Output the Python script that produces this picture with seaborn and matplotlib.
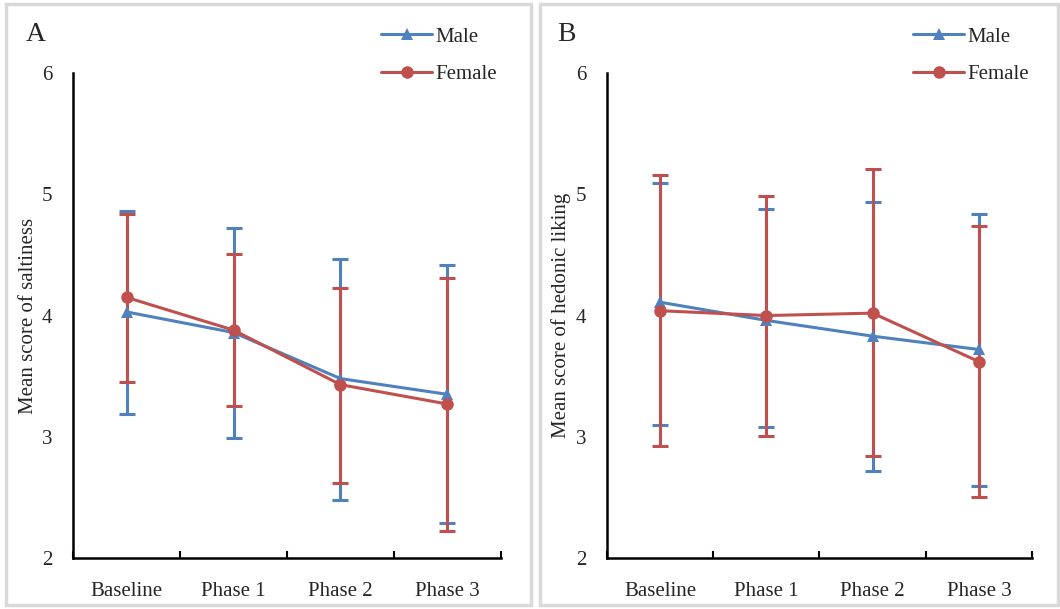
import numpy as np
import pandas as pd
import seaborn as sns
import matplotlib.pyplot as plt
from matplotlib.patches import Rectangle

phases = ["Baseline", "Phase 1", "Phase 2", "Phase 3"]

# Panel A: saltiness
salt_male = [4.03, 3.86, 3.48, 3.35]
salt_male_lo = [3.19, 2.99, 2.48, 2.29]
salt_male_hi = [4.86, 4.72, 4.47, 4.42]
salt_female = [4.15, 3.88, 3.43, 3.27]
salt_female_lo = [3.45, 3.25, 2.62, 2.22]
salt_female_hi = [4.84, 4.51, 4.23, 4.31]

# Panel B: hedonic liking
like_male = [4.11, 3.96, 3.83, 3.72]
like_male_lo = [3.10, 3.08, 2.72, 2.59]
like_male_hi = [5.09, 4.88, 4.94, 4.84]
like_female = [4.04, 4.00, 4.02, 3.62]
like_female_lo = [2.92, 3.01, 2.84, 2.50]
like_female_hi = [5.16, 4.99, 5.21, 4.74]

BLUE = "#4F81BD"
RED = "#C0504D"
FS = 15

sns.set_theme(style="white")
plt.rcParams["font.family"] = ["Liberation Serif", "DejaVu Serif"]


def long_df(male, female):
    x = np.arange(len(phases))
    return pd.DataFrame({
        "x": np.concatenate([x, x]),
        "score": list(male) + list(female),
        "sex": ["Male"] * len(male) + ["Female"] * len(female),
    })


def draw_panel(ax, male, mlo, mhi, female, flo, fhi, ylabel, letter, letter_x):
    x = np.arange(len(phases))
    for vals, lo, hi, col in [(male, mlo, mhi, BLUE), (female, flo, fhi, RED)]:
        vals = np.array(vals)
        err = [vals - np.array(lo), np.array(hi) - vals]
        ax.errorbar(x, vals, yerr=err, fmt="none", ecolor=col, elinewidth=2.2,
                    capsize=6, capthick=2.2, zorder=2)
    df = long_df(male, female)
    sns.lineplot(data=df, x="x", y="score", hue="sex", style="sex",
                 hue_order=["Male", "Female"], style_order=["Male", "Female"],
                 palette={"Male": BLUE, "Female": RED},
                 markers={"Male": "^", "Female": "o"}, dashes=False,
                 markersize=9, markeredgewidth=0, linewidth=2.2,
                 errorbar=None, ax=ax, zorder=3)
    ax.set_xlim(-0.5, 3.5)
    ax.set_ylim(2, 6)
    ax.set_yticks([2, 3, 4, 5, 6])
    ax.set_xticks(x)
    ax.set_xticklabels(phases)
    ax.set_xticks(np.arange(-0.5, 3.6, 1), minor=True)
    ax.tick_params(axis="x", which="major", length=0, pad=17, labelsize=FS)
    ax.tick_params(axis="x", which="minor", length=5, width=1.5, direction="in",
                   bottom=True, color="black")
    ax.tick_params(axis="y", length=0, pad=15, labelsize=FS)
    ax.set_xlabel("")
    ax.set_ylabel(ylabel, fontsize=FS, labelpad=3)
    for s in ["top", "right"]:
        ax.spines[s].set_visible(False)
    for s in ["left", "bottom"]:
        ax.spines[s].set_color("black")
        ax.spines[s].set_linewidth(1.8)
    ax.legend_.remove()
    handles, labels = ax.get_legend_handles_labels()
    ax.legend(handles, labels, loc="upper left", bbox_to_anchor=(0.72, 1.095),
              frameon=False, fontsize=FS, handlelength=2.45,
              handletextpad=0.15, labelspacing=0.85, borderaxespad=0,
              borderpad=0)
    ax.figure.text(letter_x, 0.943, letter, fontsize=20, ha="left", va="center")


fig = plt.figure(figsize=(10.6, 6.09), dpi=100)
for x0, w in [(0.006, 0.495), (0.509, 0.489)]:
    fig.patches.append(Rectangle((x0, 0.006), w, 0.988, transform=fig.transFigure,
                                 fill=False, edgecolor="#d9d9d9", linewidth=2.5))

axA = fig.add_axes([0.0689, 0.0837, 0.4037, 0.7963])
axB = fig.add_axes([0.5726, 0.0837, 0.4010, 0.7963])

draw_panel(axA, salt_male, salt_male_lo, salt_male_hi,
           salt_female, salt_female_lo, salt_female_hi,
           "Mean score of saltiness", "A", 0.024)
draw_panel(axB, like_male, like_male_lo, like_male_hi,
           like_female, like_female_lo, like_female_hi,
           "Mean score of hedonic liking", "B", 0.526)

fig.savefig("out.png", dpi=100)
